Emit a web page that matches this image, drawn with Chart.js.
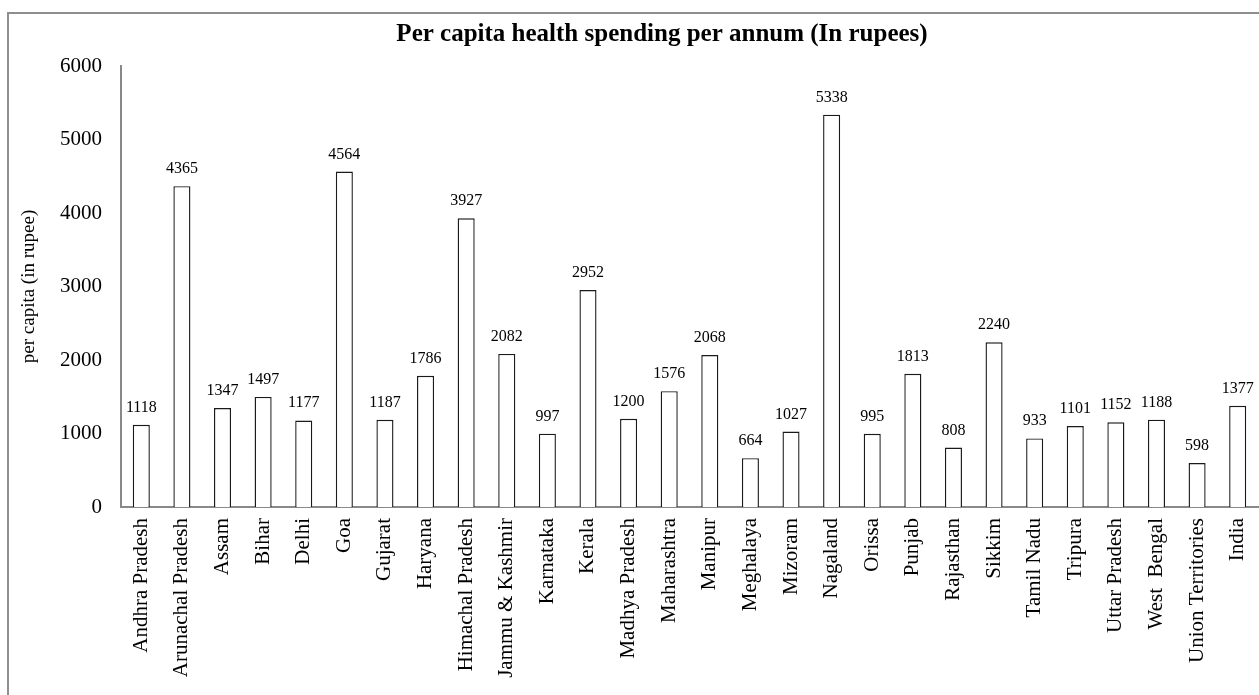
<!DOCTYPE html>
<html>
<head>
<meta charset="utf-8">
<script src="https://cdn.jsdelivr.net/npm/chart.js@4.4.1/dist/chart.umd.min.js"></script>
<style>
  html, body { margin: 0; padding: 0; background: #fff; overflow: hidden; }
  #wrap { position: relative; width: 1259px; height: 695px; }
  #frame { position: absolute; left: 7px; top: 12px; width: 1270px; height: 700px; border: 2px solid #8e8e8e; }
  #myChart { position: absolute; left: 0; top: 0; }
</style>
</head>
<body>
<div id="wrap">
  <div id="frame"></div>
  <canvas id="myChart" width="1259" height="695"></canvas>
</div>
<script>
var states = ["Andhra Pradesh", "Arunachal Pradesh", "Assam", "Bihar", "Delhi", "Goa", "Gujarat",
  "Haryana", "Himachal Pradesh", "Jammu & Kashmir", "Karnataka", "Kerala", "Madhya Pradesh",
  "Maharashtra", "Manipur", "Meghalaya", "Mizoram", "Nagaland", "Orissa", "Punjab", "Rajasthan",
  "Sikkim", "Tamil Nadu", "Tripura", "Uttar Pradesh", "West  Bengal", "Union Territories", "India"];
var spending = [1118, 4365, 1347, 1497, 1177, 4564, 1187, 1786, 3927, 2082, 997, 2952, 1200,
  1576, 2068, 664, 1027, 5338, 995, 1813, 808, 2240, 933, 1101, 1152, 1188, 598, 1377];
var yTicks = [0, 1000, 2000, 3000, 4000, 5000, 6000];

var serif = "'Liberation Serif', 'Times New Roman', serif";
var titleText = "Per capita health spending per annum (In rupees)";

// heading text plus value labels above each bar
var labelPlugin = {
    id: "barLabels",
    afterDatasetsDraw: function(chart) {
        var ctx = chart.ctx;
        ctx.save();
        ctx.fillStyle = "#000";
        ctx.textAlign = "center";
        ctx.textBaseline = "alphabetic";
        ctx.font = "16px " + serif;
        chart.getDatasetMeta(0).data.forEach(function(bar, i) {
            ctx.fillText(String(spending[i]), bar.x, bar.y - 13);
        });
        ctx.font = "bold 25px " + serif;
        ctx.fillText(titleText, 662, 41);
        ctx.restore();
    }
};

new Chart(document.getElementById("myChart").getContext("2d"), {
    type: "bar",
    data: {
        labels: states,
        datasets: [{
            label: "per capita",
            data: spending,
            backgroundColor: "#ffffff",
            borderColor: "#1a1a1a",
            borderWidth: 1.4,
            categoryPercentage: 1,
            barPercentage: 0.42
        }]
    },
    options: {
        responsive: false,
        animation: false,
        layout: { padding: { top: 66, left: 0, right: 1, bottom: 0 } },
        plugins: {
            legend: { display: false },
            tooltip: { enabled: false }
        },
        scales: {
            x: {
                grid: { display: false, drawTicks: false },
                border: { display: true, color: "#898989", width: 2 },
                ticks: {
                    color: "#000",
                    font: { family: serif, size: 21 },
                    minRotation: 90,
                    maxRotation: 90,
                    autoSkip: false,
                    padding: 11
                },
                afterFit: function(s) {
                    s.height = 188;
                    s.paddingLeft = 0;
                    s.paddingRight = 0;
                }
            },
            y: {
                min: 0,
                max: 6000,
                afterBuildTicks: function(s) { s.ticks = yTicks.map(function(v) { return { value: v }; }); },
                grid: { display: false, drawTicks: false },
                border: { display: true, color: "#898989", width: 2 },
                ticks: {
                    color: "#000",
                    font: { family: serif, size: 21 },
                    padding: 19,
                    callback: function(v) { return String(v); }
                },
                title: {
                    display: true,
                    text: "per capita (in rupee)",
                    color: "#000",
                    font: { family: serif, size: 19 },
                    padding: { top: 18, bottom: 0 }
                },
                afterFit: function(s) { s.width = 121; }
            }
        }
    },
    plugins: [labelPlugin]
});
</script>
</body>
</html>
